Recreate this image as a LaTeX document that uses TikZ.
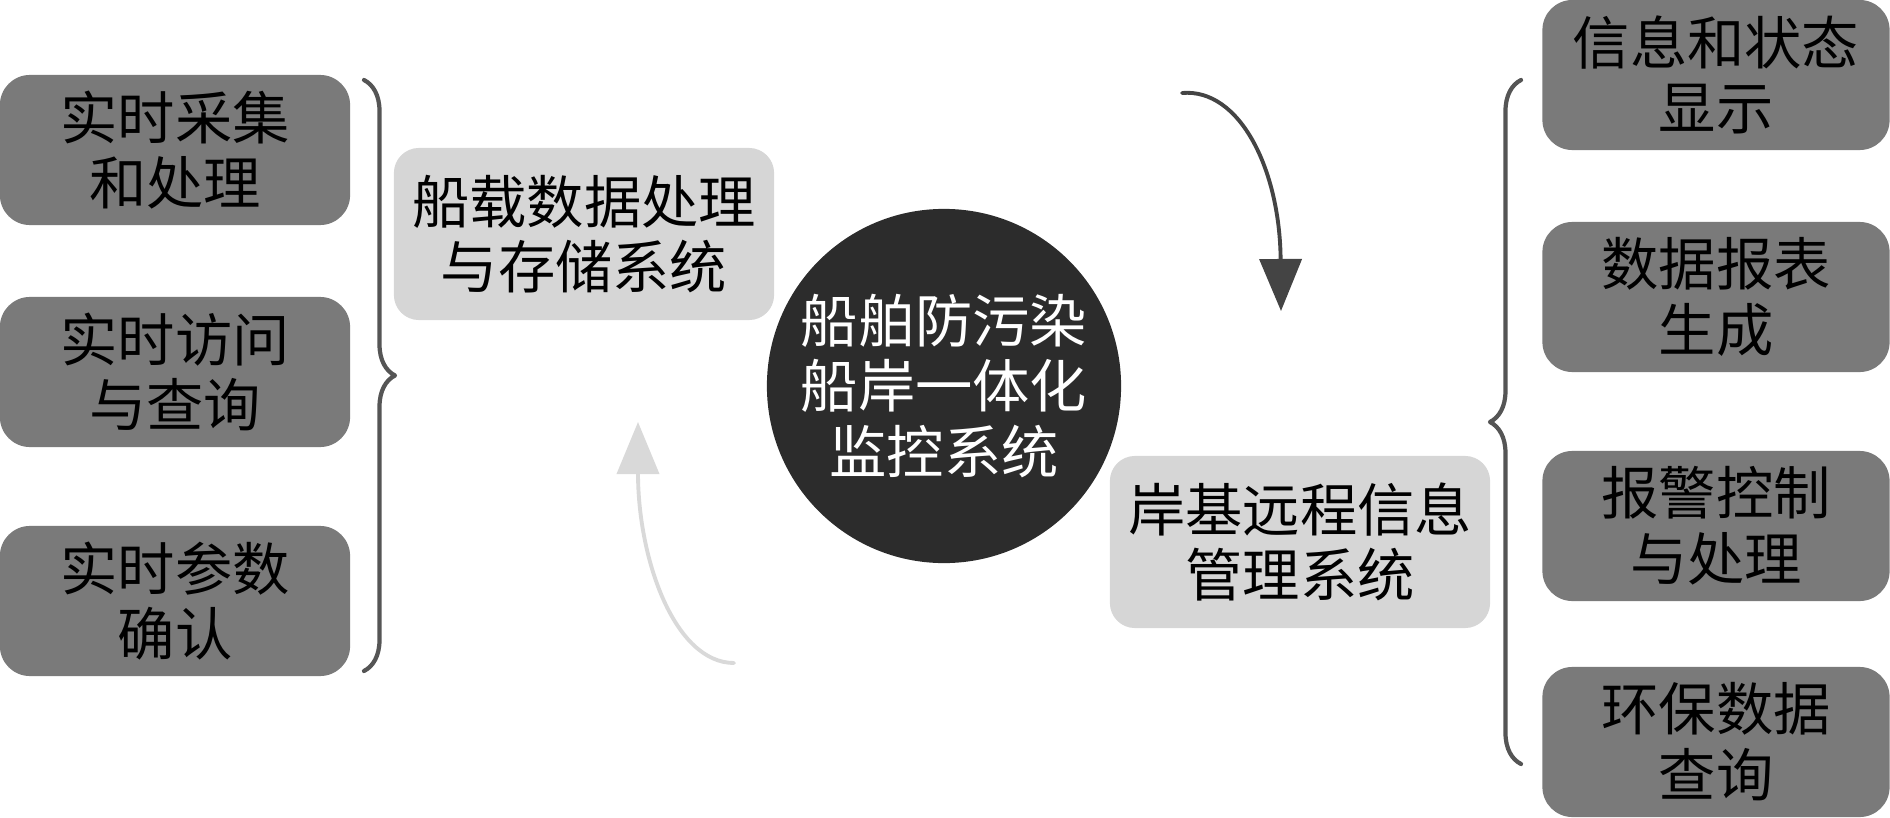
\documentclass[tikz,border=0pt]{standalone}
\usepackage{fontspec}
\setmainfont{Noto Sans CJK SC}
\usetikzlibrary{arrows.meta, positioning, decorations.pathreplacing}

\definecolor{itemgray}{RGB}{122,122,122}
\definecolor{sysgray}{RGB}{214,214,214}
\definecolor{hubgray}{RGB}{44,44,44}
\definecolor{bracegray}{RGB}{85,85,85}
\definecolor{darkflow}{RGB}{68,68,68}
\definecolor{lightflow}{RGB}{217,217,217}

\begin{document}
\begin{tikzpicture}[x=0.01cm, y=-0.01cm, line cap=round, line join=round,
    item/.style={fill=itemgray, rounded corners=0.3cm, minimum width=3.5cm,
      minimum height=1.5cm, align=center, inner sep=0pt},
    sys/.style={fill=sysgray, rounded corners=0.25cm, minimum width=3.8cm,
      minimum height=1.72cm, align=center, inner sep=0pt},
    hub/.style={circle, fill=hubgray, text=white, minimum size=3.54cm,
      align=center, inner sep=0pt},
    brc/.style={draw=bracegray, line width=1.2pt, decorate,
      decoration={brace, amplitude=0.31cm}},
    flow/.style={line width=1.1pt, -{Triangle[length=0.52cm, width=0.42cm]}},
    font=\fontsize{16.3}{18.7}\selectfont]
  \useasboundingbox (0,0) rectangle (1890,818);
  % centre
  \node[hub] (hub) at (944,386) {船舶防污染\\船岸一体化\\监控系统};
  \node[sys] (ship) at (584,234) {船载数据处理\\与存储系统};
  \node[sys] (shore) at (1300,542) {岸基远程信息\\管理系统};
  % ship side
  \node[item] (ship1) at (175,150) {实时采集\\和处理};
  \node[item] (ship2) at (175,372) {实时访问\\与查询};
  \node[item] (ship3) at (175,601) {实时参数\\确认};
  \draw[brc] (364,80) -- (364,671);
  % shore side
  \node[item, minimum width=3.47cm] (shore1) at (1716,75) {信息和状态\\显示};
  \node[item, minimum width=3.47cm] (shore2) at (1716,297) {数据报表\\生成};
  \node[item, minimum width=3.47cm] (shore3) at (1716,526) {报警控制\\与处理};
  \node[item, minimum width=3.47cm] (shore4) at (1716,742) {环保数据\\查询};
  \draw[brc] (1521,764) -- (1521,80);
  % flow between the two systems
  \coordinate (dfrom) at (1182,93);
  \coordinate (dto) at (1281,311);
  \coordinate (lfrom) at (734,663);
  \coordinate (lto) at (638,422);
  \draw[flow, darkflow] (dfrom) .. controls (1240,88) and (1280,170) .. (dto);
  \draw[flow, lightflow] (lfrom) .. controls (675,663) and (638,560) .. (lto);
\end{tikzpicture}
\end{document}
